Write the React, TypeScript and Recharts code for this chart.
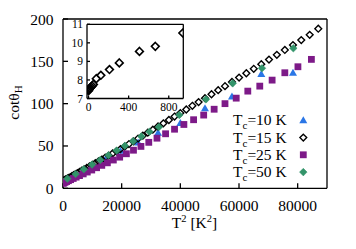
import React from 'react';
import { ScatterChart, Scatter, XAxis, YAxis, ReferenceLine, CartesianGrid } from 'recharts';

const FONT = '"Liberation Serif", "Times New Roman", serif';

// ---- data (x = T^2 [K^2], y = cot theta_H) ----
const tc10T2 = [10000, 14400, 19600, 25600, 32400, 40000, 48400, 57600, 67600, 78400];
const tc10Cot = [27, 34, 44.5, 54, 65.7, 77, 94.5, 108.5, 135, 136.5];

const tc15T2 = [
  0, 4, 9, 16, 25, 36, 49, 78, 123, 209, 307, 508, 666, 940,
  1225, 1600, 2025, 2500, 3025, 3600, 4225, 4900, 5625, 6400, 7225, 8100, 9025, 10000,
  11025, 12100, 13225, 14400, 15625, 16900, 18225, 19600, 21025, 22500, 24025, 25600,
  27225, 28900, 30625, 32400, 34225, 36100, 38025, 40000, 42025, 44100, 46225, 48400,
  50625, 52900, 55225, 57600, 60025, 62500, 65025, 67600, 70225, 72900, 75625, 78400,
  81225, 84100, 87025,
];
const tc15Cot = [
  7.42, 7.47, 7.52, 7.57, 7.62, 7.68, 7.76, 8.07, 8.25, 8.56, 8.92, 9.54, 9.81, 10.53,
  10.9, 11.6, 12.4, 13.3, 14.3, 15.4, 16.6, 18.0, 19.4, 20.9, 22.4, 24.1, 25.9, 27.8,
  29.8, 31.9, 34.0, 36.3, 38.7, 41.1, 43.7, 46.3, 49.2, 52.3, 55.5, 58.8,
  62.2, 65.7, 69.3, 73.0, 76.8, 80.7, 84.8, 88.9, 93.1, 97.5, 101.9, 106.5,
  111.1, 115.9, 120.7, 125.7, 130.8, 135.9, 141.2, 146.6, 152.1, 157.7, 163.4, 169.2,
  175.1, 181.3, 188.5,
];

const tc25T2 = [
  9, 121, 361, 729, 1225, 1849, 2601, 3481, 4489, 5625, 6889, 8281, 9801, 11449, 13225,
  15129, 17161, 19321, 21609, 24025, 26569, 29241, 32041, 34969, 38025, 41209, 44521,
  47961, 51529, 55225, 59049, 63001, 67081, 71289, 75625, 80089, 84681,
];
const tc25Cot = [
  6.0, 6.2, 6.6, 7.2, 8.0, 9.0, 10.2, 11.6, 13.2, 15.0, 17.0, 19.2, 21.6, 24.3, 27.1,
  30.1, 33.4, 36.8, 40.8, 45.0, 49.5, 54.3, 59.2, 64.4, 69.8, 75.4, 81.0,
  86.5, 93.4, 100.0, 106.5, 114.8, 120.7, 127.8, 136.5, 143.6, 152.3,
];

const tc50T2 = [
  1500, 4300, 7100, 9900, 12700, 15500, 18300, 21100, 23900, 26700, 29500,
  32700, 39650, 48750, 57850, 67840, 78520,
];
const tc50Cot = [
  11.4, 16.9, 22.5, 28.0, 33.5, 39.1, 44.6, 50.2, 55.7, 61.3, 66.8,
  72.4, 86.6, 105.1, 124.0, 141.8, 165.4,
];

const xTicks = [0, 20000, 40000, 60000, 80000];
const yTicks = [0, 50, 100, 150, 200];
const insetXTicks = [0, 400, 800];
const insetYTicks = [7, 8, 9, 10, 11];

const legendLabels = ['=10 K', '=15 K', '=25 K', '=50 K'];

const toPts = (xs: number[], ys: number[]) => xs.map((x, i) => ({ x, y: ys[i] }));

const BLUE = '#2a76e6';
const PURPLE = '#7d1a88';
const GREEN = '#33946a';

const diamond = (cx: number, cy: number, r: number, fill: string, stroke: string, sw: number) => (
  <polygon
    points={`${cx},${cy - r} ${cx + r},${cy} ${cx},${cy + r} ${cx - r},${cy}`}
    fill={fill}
    stroke={stroke}
    strokeWidth={sw}
  />
);
const triangle = (cx: number, cy: number, color: string) => (
  <polygon points={`${cx},${cy - 4} ${cx + 4},${cy + 3} ${cx - 4},${cy + 3}`} fill={color} />
);
const square = (cx: number, cy: number, color: string) => (
  <rect x={cx - 3.4} y={cy - 3.4} width={6.8} height={6.8} fill={color} />
);

const TriShape = (p: any) => (p.cx == null ? <g /> : triangle(p.cx, p.cy, BLUE));
const OpenDiaShape = (p: any) => (p.cx == null ? <g /> : diamond(p.cx, p.cy, 3.4, 'none', '#000', 1.4));
const InsetDiaShape = (p: any) => (p.cx == null ? <g /> : diamond(p.cx, p.cy, 3.9, 'none', '#000', 1.6));
const SqShape = (p: any) => (p.cx == null ? <g /> : square(p.cx, p.cy, PURPLE));
const GreenDiaShape = (p: any) => (p.cx == null ? <g /> : diamond(p.cx, p.cy, 3.8, GREEN, GREEN, 0.5));

const axisStyle = { stroke: '#000', strokeWidth: 1.3 };

export default function App() {
  const d10 = toPts(tc10T2, tc10Cot);
  const d15 = toPts(tc15T2, tc15Cot);
  const d25 = toPts(tc25T2, tc25Cot);
  const d50 = toPts(tc50T2, tc50Cot);
  const dInset = d15.filter((p) => p.x <= 945);

  const legendBase = [125.2, 142.6, 159.8, 177.1];
  const markers = [
    (cx: number, cy: number) => triangle(cx, cy, BLUE),
    (cx: number, cy: number) => diamond(cx, cy, 3.4, 'none', '#000', 1.4),
    (cx: number, cy: number) => square(cx, cy, PURPLE),
    (cx: number, cy: number) => diamond(cx, cy, 3.8, GREEN, GREEN, 0.5),
  ];

  return (
    <div style={{ position: 'absolute', left: 0, top: 0, width: 356, height: 249, background: '#fff' }}>
      <div style={{ position: 'absolute', left: 0, top: 0 }}>
        <ScatterChart width={356} height={249} margin={{ top: 19, right: 28, bottom: 20.7, left: 8 }}>
          <XAxis
            type="number"
            dataKey="x"
            domain={[0, 90000]}
            ticks={xTicks}
            interval={0}
            allowDataOverflow
            height={40}
            tickSize={-5}
            tickMargin={17}
            axisLine={axisStyle}
            tickLine={axisStyle}
            tick={{ fill: '#000', fontSize: 15.5, fontFamily: FONT }}
          />
          <YAxis
            yAxisId="l"
            type="number"
            dataKey="y"
            domain={[0, 200]}
            ticks={yTicks}
            interval={0}
            allowDataOverflow
            width={55}
            tickSize={-5}
            tickMargin={14.5}
            axisLine={axisStyle}
            tickLine={axisStyle}
            tick={{ fill: '#000', fontSize: 15.5, fontFamily: FONT }}
          />
          <YAxis
            yAxisId="r"
            orientation="right"
            type="number"
            domain={[0, 200]}
            ticks={[50, 100, 150]}
            interval={0}
            allowDataOverflow
            width={1}
            tickSize={-5}
            axisLine={axisStyle}
            tickLine={axisStyle}
            tick={false}
          />
          <ReferenceLine yAxisId="l" y={200} stroke="#000" strokeWidth={1.3} />
          <Scatter yAxisId="l" data={d10} shape={TriShape} isAnimationActive={false} />
          <Scatter yAxisId="l" data={d15} shape={OpenDiaShape} isAnimationActive={false} />
          <Scatter yAxisId="l" data={d25} shape={SqShape} isAnimationActive={false} />
          <Scatter yAxisId="l" data={d50} shape={GreenDiaShape} isAnimationActive={false} />
        </ScatterChart>
      </div>

      <div style={{ position: 'absolute', left: 0, top: 0 }}>
        <ScatterChart width={200} height={120} margin={{ top: 23.3, right: 15.7, bottom: 1.5, left: 57 }}>
          <CartesianGrid fill="#fff" horizontal={false} vertical={false} />
          <XAxis
            type="number"
            dataKey="x"
            domain={[-15, 945]}
            ticks={insetXTicks}
            interval={0}
            allowDataOverflow
            height={20}
            tickSize={-3}
            tickMargin={7.5}
            axisLine={axisStyle}
            tickLine={axisStyle}
            tick={{ fill: '#000', fontSize: 11.5, fontFamily: FONT }}
          />
          <XAxis
            xAxisId="t"
            orientation="top"
            type="number"
            domain={[-15, 945]}
            ticks={[400, 800]}
            interval={0}
            allowDataOverflow
            height={1}
            tickSize={-3}
            axisLine={axisStyle}
            tickLine={axisStyle}
            tick={false}
          />
          <YAxis
            type="number"
            dataKey="y"
            domain={[7, 11]}
            ticks={insetYTicks}
            interval={0}
            allowDataOverflow
            width={30}
            tickSize={-3}
            tickMargin={7}
            axisLine={axisStyle}
            tickLine={axisStyle}
            tick={{ fill: '#000', fontSize: 11.5, fontFamily: FONT }}
          />
          <YAxis
            yAxisId="r"
            orientation="right"
            type="number"
            domain={[7, 11]}
            ticks={[8, 9, 10]}
            interval={0}
            allowDataOverflow
            width={1}
            tickSize={-3}
            axisLine={axisStyle}
            tickLine={axisStyle}
            tick={false}
          />
          <Scatter data={dInset} shape={InsetDiaShape} isAnimationActive={false} />
        </ScatterChart>
      </div>

      <svg
        width={356}
        height={249}
        style={{ position: 'absolute', left: 0, top: 0, pointerEvents: 'none' }}
        fontFamily={FONT}
      >
        <text transform="translate(18.5,102.5) rotate(-90)" textAnchor="middle" fontSize={15.5} fill="#000">
          cotθ<tspan dy={3.5} fontSize={11}>H</tspan>
        </text>
        <text x={194.5} y={227.5} textAnchor="middle" fontSize={15.5} fill="#000">
          T<tspan dy={-6} fontSize={10.5}>2</tspan>
          <tspan dy={6}> [K</tspan>
          <tspan dy={-6} fontSize={10.5}>2</tspan>
          <tspan dy={6}>]</tspan>
        </text>
        {legendLabels.map((lab, i) => (
          <g key={lab}>
            <text x={286.7} y={legendBase[i]} textAnchor="end" fontSize={15.5} fill="#000">
              T<tspan dy={4} fontSize={11}>c</tspan>
              <tspan dy={-4}>{lab}</tspan>
            </text>
            {markers[i](303.3, legendBase[i] - 5)}
          </g>
        ))}
      </svg>
    </div>
  );
}
